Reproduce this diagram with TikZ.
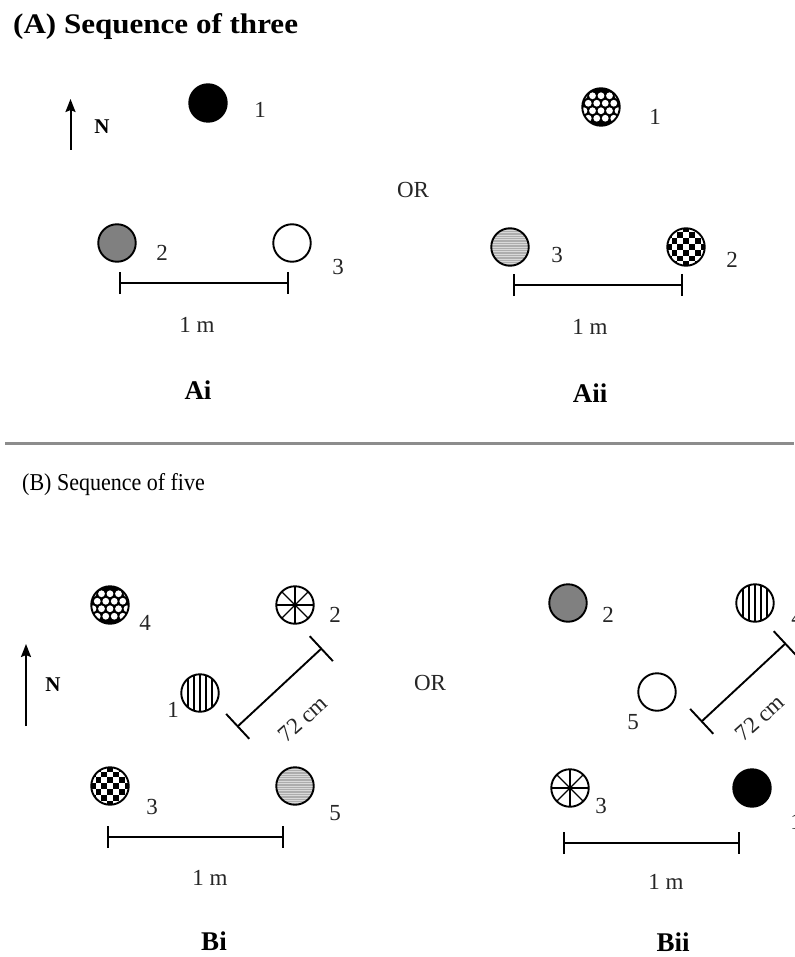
\documentclass[tikz,border=0pt]{standalone}
\usepackage{fontspec}
\setmainfont{Liberation Serif}
\usetikzlibrary{arrows.meta}
\begin{document}
\begin{tikzpicture}[x=1pt,y=-1pt]
\tikzset{
  disc/.style={circle, draw=black, line width=1.9pt, minimum size=37.5pt, inner sep=0pt, fill=white},
  solidblack/.style={disc, fill=black},
  solidgrey/.style={disc, fill=black!50},
  hollow/.style={disc},
  hstripe/.style={disc, fill=black!32, path picture={
      \foreach \k in {-8,...,8}
        \draw[white!85!black, line width=0.8pt] ([yshift={\k*2.4pt}]path picture bounding box.west) -- ([yshift={\k*2.4pt}]path picture bounding box.east);}},
  vstripe/.style={disc, path picture={
      \foreach \k in {-12,-6,0,6,12}
        \draw[black, line width=1.4pt] ([xshift={\k*1pt}]path picture bounding box.north) -- ([xshift={\k*1pt}]path picture bounding box.south);}},
  wheel/.style={disc, path picture={
      \foreach \a in {0,45,90,135}
        \draw[black, line width=1.2pt] ([shift={(\a:21pt)}]path picture bounding box.center) -- ([shift={(\a+180:21pt)}]path picture bounding box.center);
      \fill[black] (path picture bounding box.center) circle (1.8pt);}},
  checker/.style={disc, path picture={
      \foreach \i in {-3,...,3}{\foreach \j in {-3,...,3}{
        \pgfmathtruncatemacro\pp{mod(\i+\j+10,2)}
        \ifnum\pp=1
          \fill[black] ([shift={(\i*5.8pt-2.9pt,\j*5.8pt-2.9pt)}]path picture bounding box.center) rectangle ++(5.8pt,5.8pt);
        \fi}}}},
  dotted/.style={disc, fill=black, path picture={
      \foreach \x in {-12.75,-4.25,4.25,12.75}{\foreach \y in {-11.25,3.75}{
        \fill[white] ([shift={(\x*1pt,\y*1pt)}]path picture bounding box.center) circle (3.4pt);}}
      \foreach \x in {-8.5,0,8.5}{\foreach \y in {-3.75,11.25}{
        \fill[white] ([shift={(\x*1pt,\y*1pt)}]path picture bounding box.center) circle (3.4pt);}}
      \foreach \x in {-17,17}{\foreach \y in {-3.75,11.25}{
        \fill[white] ([shift={(\x*1pt,\y*1pt)}]path picture bounding box.center) circle (3.4pt);}}}},
  lab/.style={inner sep=0pt, text=black!85, font=\fontsize{23}{23}\selectfont},
  panel/.style={inner sep=0pt, font=\bfseries\fontsize{27}{27}\selectfont},
  nlab/.style={inner sep=0pt, font=\bfseries\fontsize{21}{21}\selectfont},
  scalebar/.style={line width=2.2pt, {Bar[width=22pt]}-{Bar[width=22pt]}},
  diagbar/.style={line width=1.9pt, {Bar[width=34pt]}-{Bar[width=34pt]}},
  northarrow/.style={line width=2pt, -{Stealth[length=13pt,width=10pt,inset=2pt]}},
}
\fill[white] (0,0) rectangle (794,957);
\useasboundingbox (0,0) rectangle (794,957);

% ---------- Section A ----------
\node[anchor=west, inner sep=0pt, font=\bfseries\fontsize{27}{27}\selectfont] (ta) at (13,27) {\scalebox{1.15}[1.05]{(A) Sequence of three}};

\coordinate (na0) at (70.5,150);
\coordinate (na1) at (70.5,99);
\draw[northarrow] (na0) -- (na1);
\node[nlab] (naN) at (102,127) {N};

% Ai
\node[solidblack] (ai1) at (208,103) {};
\node[lab] (ai1l) at (260,110) {1};
\node[solidgrey] (ai2) at (117,243) {};
\node[lab] (ai2l) at (162,253) {2};
\node[hollow] (ai3) at (292,243) {};
\node[lab] (ai3l) at (338,267) {3};
\coordinate (aib0) at (119,283);
\coordinate (aib1) at (289,283);
\draw[scalebar] (aib0) -- (aib1);
\node[lab] (aim) at (197,325) {1 m};
\node[panel] (ail) at (198,390) {Ai};

\node[lab] (aor) at (413,190) {OR};

% Aii
\node[dotted] (aii1) at (601,107) {};
\node[lab] (aii1l) at (655,117) {1};
\node[hstripe] (aii3) at (510,247) {};
\node[lab] (aii3l) at (557,255) {3};
\node[checker] (aii2) at (686,247) {};
\node[lab] (aii2l) at (732,260) {2};
\coordinate (aiib0) at (513,285);
\coordinate (aiib1) at (683,285);
\draw[scalebar] (aiib0) -- (aiib1);
\node[lab] (aiim) at (590,327) {1 m};
\node[panel] (aiil) at (590,393) {Aii};

% divider
\coordinate (dv0) at (5,443);
\coordinate (dv1) at (794,443);
\draw[black!45, line width=3pt] (dv0) -- (dv1);

% ---------- Section B ----------
\node[anchor=west, inner sep=0pt, font=\fontsize{22}{22}\selectfont] (tb) at (22,485) {\scalebox{1}[1.1]{(B) Sequence of five}};

\coordinate (nb0) at (26,726);
\coordinate (nb1) at (26,644);
\draw[northarrow] (nb0) -- (nb1);
\node[nlab] (nbN) at (53,685) {N};

% Bi
\node[dotted] (bi4) at (110,605) {};
\node[lab] (bi4l) at (145,623) {4};
\node[wheel] (bi2) at (295,605) {};
\node[lab] (bi2l) at (335,615) {2};
\node[vstripe] (bi1) at (200,693) {};
\node[lab] (bi1l) at (173,710) {1};
\node[checker] (bi3) at (110,786) {};
\node[lab] (bi3l) at (152,807) {3};
\node[hstripe] (bi5) at (295,786) {};
\node[lab] (bi5l) at (335,813) {5};
\coordinate (bid0) at (237,727);
\coordinate (bid1) at (322,648);
\draw[diagbar] (bid0) -- (bid1);
\node[lab, rotate=42] (bidl) at (303,719) {72 cm};
\coordinate (bib0) at (107,837);
\coordinate (bib1) at (284,837);
\draw[scalebar] (bib0) -- (bib1);
\node[lab] (bim) at (210,878) {1 m};
\node[panel] (bil) at (214,941) {Bi};

\node[lab] (bor) at (430,683) {OR};

% Bii
\node[solidgrey] (bii2) at (568,603) {};
\node[lab] (bii2l) at (608,615) {2};
\node[vstripe] (bii4) at (755,603) {};
\node[lab] (bii4l) at (797,618) {4};
\node[hollow] (bii5) at (657,692) {};
\node[lab] (bii5l) at (633,722) {5};
\node[wheel] (bii3) at (570,788) {};
\node[lab] (bii3l) at (601,806) {3};
\node[solidblack] (bii1) at (752,788) {};
\node[lab] (bii1l) at (796,822) {1};
\coordinate (biid0) at (701,722);
\coordinate (biid1) at (786,643);
\draw[diagbar] (biid0) -- (biid1);
\node[lab, rotate=42] (biidl) at (760,718) {72 cm};
\coordinate (biib0) at (563,843);
\coordinate (biib1) at (740,843);
\draw[scalebar] (biib0) -- (biib1);
\node[lab] (biim) at (666,882) {1 m};
\node[panel] (biil) at (673,942) {Bii};
\end{tikzpicture}
\end{document}
